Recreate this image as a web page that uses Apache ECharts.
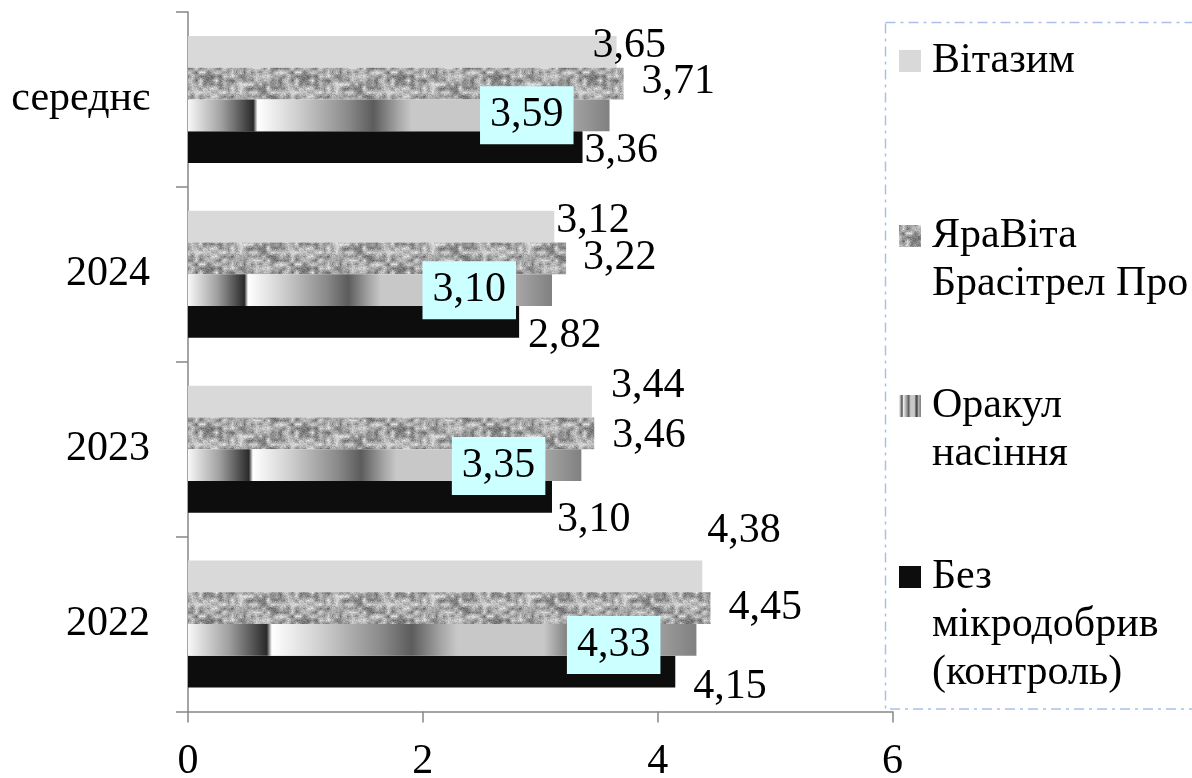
<!DOCTYPE html>
<html>
<head>
<meta charset="utf-8">
<script src="https://cdn.jsdelivr.net/npm/echarts@6/dist/echarts.min.js"></script>
<style>
html,body{margin:0;padding:0;background:#fff;}
#chart{width:1192px;height:778px;}
</style>
</head>
<body>
<div id="chart"></div>
<script>
// ---- data ----
const categories = ['2022', '2023', '2024', 'середнє'];
const vitazym  = [4.38, 3.44, 3.12, 3.65];
const yaravita = [4.45, 3.46, 3.22, 3.71];
const orakul   = [4.33, 3.35, 3.10, 3.59];
const control  = [4.15, 3.10, 2.82, 3.36];
const seriesNames = ['Вітазим', 'ЯраВіта Брасітрел Про', 'Оракул насіння', 'Без мікродобрив (контроль)'];
const legendLines = {
  'Вітазим': ['Вітазим'],
  'ЯраВіта Брасітрел Про': ['ЯраВіта', 'Брасітрел Про'],
  'Оракул насіння': ['Оракул', 'насіння'],
  'Без мікродобрив (контроль)': ['Без', 'мікродобрив', '(контроль)']
};
const xMin = 0, xMax = 6, xStep = 2;

// ---- styles (label nudges, per category) ----
const FONT = "'Liberation Serif', 'Times New Roman', serif";
const FS = 42;
const LH = 48;
const shiftVitazym  = [[5, -45], [19, -16], [2, -6], [-24, -6]];
const shiftYaravita = [[18, 0], [18, 3], [17, 0], [18, -2]];
const shiftOrakul   = [[-31, 5], [-31, 1], [-31, 0], [-31, 0]];
const shiftControl  = [[18, 15], [5, 23], [9, 14], [2, 4]];
const legendIconCenters = [61, 236, 406, 577];

function fmt(v) { return v.toFixed(2).replace('.', ','); }

function noisePattern() {
  const w = 96, h = 32;
  const c = document.createElement('canvas');
  c.width = w; c.height = h;
  const ctx = c.getContext('2d');
  let s = 987654;
  const rnd = () => { s = (s * 1103515245 + 12345) & 0x7fffffff; return s / 0x7fffffff; };
  const gx = 4, gy = 4;
  const cols = w / gx, rows = h / gy;
  const grid = [];
  for (let j = 0; j < rows; j++) { grid.push([]); for (let i = 0; i < cols; i++) grid[j].push(rnd()); }
  const img = ctx.createImageData(w, h);
  for (let y = 0; y < h; y++) {
    for (let x = 0; x < w; x++) {
      const fx = x / gx, fy = y / gy;
      const i0 = Math.floor(fx) % cols, j0 = Math.floor(fy) % rows;
      const i1 = (i0 + 1) % cols, j1 = (j0 + 1) % rows;
      const tx = fx - Math.floor(fx), ty = fy - Math.floor(fy);
      const a = grid[j0][i0] * (1 - tx) + grid[j0][i1] * tx;
      const b = grid[j1][i0] * (1 - tx) + grid[j1][i1] * tx;
      let v = a * (1 - ty) + b * ty;
      v = v * 0.75 + rnd() * 0.25;
      const g = Math.round(90 + v * 160);
      const k = (y * w + x) * 4;
      img.data[k] = g; img.data[k + 1] = g; img.data[k + 2] = g; img.data[k + 3] = 255;
    }
  }
  ctx.putImageData(img, 0, 0);
  return { image: c, repeat: 'repeat' };
}

const orakulFill = new echarts.graphic.LinearGradient(0, 0, 1, 0, [
  { offset: 0.00, color: '#f8f8f8' },
  { offset: 0.08, color: '#a0a0a0' },
  { offset: 0.155, color: '#2a2a2a' },
  { offset: 0.165, color: '#ffffff' },
  { offset: 0.26, color: '#cfcfcf' },
  { offset: 0.38, color: '#8a8a8a' },
  { offset: 0.44, color: '#5c5c5c' },
  { offset: 0.50, color: '#a8a8a8' },
  { offset: 0.53, color: '#c8c8c8' },
  { offset: 0.70, color: '#c8c8c8' },
  { offset: 0.77, color: '#5a5a5a' },
  { offset: 0.82, color: '#454545' },
  { offset: 0.88, color: '#b0b0b0' },
  { offset: 1.00, color: '#808080' }
]);

function items(values, shifts) {
  return values.map((v, i) => ({ value: v, label: { offset: shifts[i] } }));
}

const plainLabel = {
  show: true, position: 'right', distance: 0,
  fontFamily: FONT, fontSize: FS, color: '#000',
  formatter: p => fmt(p.value)
};

const baseBar = {
  type: 'bar', barGap: '0%', barCategoryGap: '27.4%',
  emphasis: { disabled: true }, animation: false
};

const series = [
  Object.assign({}, baseBar, {
    name: seriesNames[0], data: items(vitazym, shiftVitazym),
    itemStyle: { color: '#d9d9d9' }, label: plainLabel, z: 2
  }),
  Object.assign({}, baseBar, {
    name: seriesNames[1], data: items(yaravita, shiftYaravita),
    itemStyle: { color: noisePattern() }, label: plainLabel, z: 2
  }),
  Object.assign({}, baseBar, {
    name: seriesNames[2], data: items(orakul, shiftOrakul),
    itemStyle: { color: orakulFill },
    label: Object.assign({}, plainLabel, {
      position: 'insideRight', distance: 5,
      backgroundColor: '#ccffff', padding: [8, 10, 8, 10]
    }), z: 3
  }),
  Object.assign({}, baseBar, {
    name: seriesNames[3], data: items(control, shiftControl),
    itemStyle: { color: '#0d0d0d' }, label: plainLabel, z: 2
  })
];

// icon sits at the first text line: pad the text block with blank lines above
const legends = seriesNames.map((name, i) => {
  const n = legendLines[name].length;
  const blanks = new Array(n - 1).fill('');
  return {
    data: [name], orient: 'vertical', left: 899,
    top: legendIconCenters[i] - (2 * n - 1) * LH / 2, padding: 0,
    itemWidth: 22, itemHeight: 22, icon: 'rect', selectedMode: false,
    formatter: nm => blanks.concat(legendLines[nm]).join('\n'),
    textStyle: {
      fontFamily: FONT, fontSize: FS, lineHeight: LH, color: '#000',
      padding: [0, 0, 0, 6]
    }
  };
});

const chart = echarts.init(document.getElementById('chart'), null, { renderer: 'canvas' });
chart.setOption({
  animation: false,
  backgroundColor: '#ffffff',
  grid: { left: 188, right: 299.5, top: 12, bottom: 66.5, containLabel: false, outerBoundsMode: 'none' },
  legend: legends,
  xAxis: {
    type: 'value', min: xMin, max: xMax, interval: xStep,
    axisLine: { show: true, lineStyle: { color: '#868686', width: 1.5 } },
    axisTick: { show: true, length: 11, lineStyle: { color: '#868686', width: 1.5 } },
    splitLine: { show: false },
    axisLabel: { margin: 29, fontFamily: FONT, fontSize: FS, color: '#000' }
  },
  yAxis: {
    type: 'category', data: categories,
    axisLine: { show: true, lineStyle: { color: '#868686', width: 1.5 } },
    axisTick: { show: true, length: 12, lineStyle: { color: '#868686', width: 1.5 } },
    axisLabel: { margin: 38, fontFamily: FONT, fontSize: FS, color: '#000' }
  },
  graphic: [{
    type: 'rect', silent: true,
    shape: { x: 885.5, y: 22.5, width: 400, height: 686.5 },
    style: { fill: 'none', stroke: '#a9c1e9', lineWidth: 1.5, lineDash: [10, 5, 3, 5] }
  }],
  series: series
});
</script>
</body>
</html>
